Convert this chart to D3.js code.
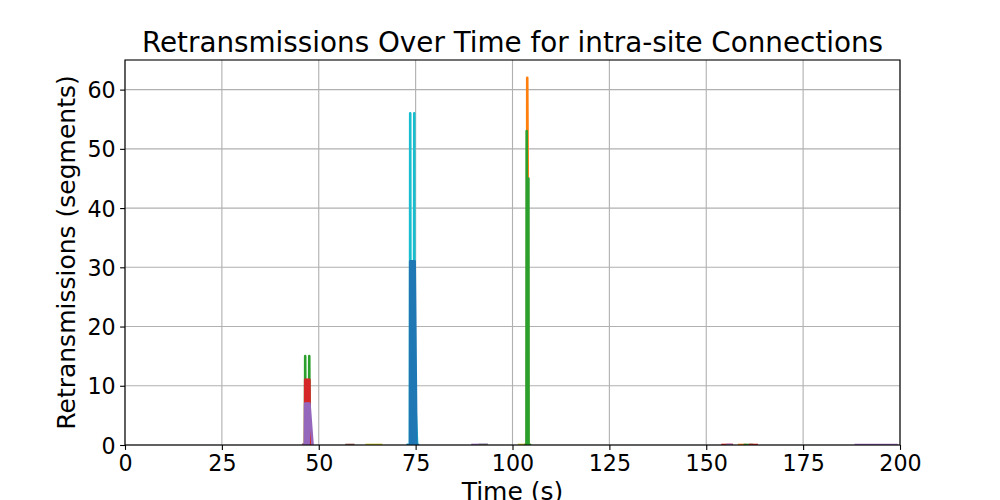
<!DOCTYPE html>
<html>
<head>
<meta charset="utf-8">
<script src="https://cdn.jsdelivr.net/npm/d3@7"></script>
<style>
  html, body { margin: 0; padding: 0; background: #fff; }
  svg { display: block; font-family: "DejaVu Sans", sans-serif; }
</style>
</head>
<body>
<svg id="chart" width="1000" height="500"></svg>
<script>
// ---- Data ----
const chartTitle = "Retransmissions Over Time for intra-site Connections";
const xLabel = "Time (s)";
const yLabel = "Retransmissions (segments)";
const xTicks = [0, 25, 50, 75, 100, 125, 150, 175, 200];
const yTicks = [0, 10, 20, 30, 40, 50, 60];

// each connection: sample times (s) and retransmission counts
const connA_t = [57.2, 58.9];
const connA_v = [0, 0];
const connB_t = [62.4, 66.1];
const connB_v = [0, 0];
const connC_t = [46.0, 46.45, 46.5, 46.6, 47.45, 47.55, 47.65, 48.0];
const connC_v = [0, 0, 15, 0, 0, 15, 0, 0];
const connD_t = [46.0, 46.45, 46.5, 46.6, 46.7, 46.8, 46.9, 47.0, 47.1, 47.2, 47.3, 47.4, 47.5, 47.6, 47.7, 48.0];
const connD_v = [0, 0, 11, 5, 11, 5, 11, 5, 11, 5, 11, 5, 11, 11, 0, 0];
const connE_t = [46.0, 46.45, 46.5, 46.6, 46.7, 46.8, 46.9, 47.0, 47.1, 47.2, 47.3, 47.4, 47.5, 47.6, 48.4];
const connE_v = [0, 0, 7, 0, 7, 0, 7, 0, 7, 0, 7, 0, 7, 7, 0];
const connF_t = [73.0, 73.55, 73.6, 73.7, 74.55, 74.65, 74.7, 75.4];
const connF_v = [0, 0, 56, 0, 0, 56, 10, 0];
const connG_t = [73.0, 73.55, 73.6, 73.7, 73.8, 73.9, 74.0, 74.1, 74.2, 74.3, 74.4, 74.5, 74.6, 74.75, 75.2, 75.6];
const connG_v = [0, 0, 31, 0, 31, 0, 31, 0, 31, 0, 31, 0, 31, 31, 0, 0];
const connH_t = [89.7, 93.3];
const connH_v = [0, 0];
const connI_t = [91.6, 93.3];
const connI_v = [0, 0];
const connJ_t = [101.7, 103.2];
const connJ_v = [0, 0];
const connK_t = [103.4, 103.75, 103.8, 103.94, 104.0, 104.4];
const connK_v = [0, 0, 62, 45, 0, 0];
const connL_t = [103.4, 103.6, 103.66, 103.8, 104.1, 104.15, 104.5];
const connL_v = [0, 0, 53, 0, 45, 0, 0];
const connM_t = [154.2, 156.6];
const connM_v = [0, 0];
const connN_t = [155.5, 156.4];
const connN_v = [0, 0];
const connO_t = [158.5, 160.1];
const connO_v = [0, 0];
const connP_t = [160.0, 161.7];
const connP_v = [0, 0];
const connQ_t = [161.3, 163.0];
const connQ_v = [0, 0];
const connR_t = [188.6, 199.1];
const connR_v = [0, 0];

// draw order and palette slot (matplotlib tab10 == d3.schemeCategory10)
const seriesList = [
  [connA_t, connA_v], [connB_t, connB_v], [connC_t, connC_v], [connD_t, connD_v],
  [connE_t, connE_v], [connF_t, connF_v], [connG_t, connG_v], [connH_t, connH_v],
  [connI_t, connI_v], [connJ_t, connJ_v], [connK_t, connK_v], [connL_t, connL_v],
  [connM_t, connM_v], [connN_t, connN_v], [connO_t, connO_v], [connP_t, connP_v],
  [connQ_t, connQ_v], [connR_t, connR_v]
];
const seriesColorSlot = [5, 8, 2, 3, 4, 9, 0, 4, 7, 8, 1, 2, 3, 4, 1, 2, 3, 4];

// ---- Layout ----
const W = 1000, H = 500;
const m = { left: 125, right: 100, top: 60, bottom: 55 };
const pw = W - m.left - m.right, ph = H - m.top - m.bottom;
const svg = d3.select("#chart");
const g = svg.append("g").attr("transform", `translate(${m.left},${m.top})`);

const x = d3.scaleLinear().domain([0, 200]).range([0, pw]);
const y = d3.scaleLinear().domain([0, 65]).range([ph, 0]);

// grid
g.append("g").selectAll("line").data(xTicks).join("line")
  .attr("x1", d => x(d)).attr("x2", d => x(d)).attr("y1", 0).attr("y2", ph)
  .attr("stroke", "#b0b0b0").attr("stroke-width", 1.1);
g.append("g").selectAll("line").data(yTicks).join("line")
  .attr("x1", 0).attr("x2", pw).attr("y1", d => y(d)).attr("y2", d => y(d))
  .attr("stroke", "#b0b0b0").attr("stroke-width", 1.1);

// lines
const lineGen = d3.line().x(d => x(d[0])).y(d => y(d[1]));
const clip = svg.append("defs").append("clipPath").attr("id", "clip")
  .append("rect").attr("width", pw).attr("height", ph);
const lg = g.append("g").attr("clip-path", "url(#clip)");
seriesList.forEach((s, i) => {
  const pts = s[0].map((t, k) => [t, s[1][k]]);
  lg.append("path").datum(pts)
    .attr("d", lineGen)
    .attr("fill", "none")
    .attr("stroke", d3.schemeCategory10[seriesColorSlot[i]])
    .attr("stroke-width", 2.6)
    .attr("stroke-linejoin", "round")
    .attr("stroke-linecap", "square");
});

// axes
const xAxis = d3.axisBottom(x).tickValues(xTicks).tickSize(4.9).tickPadding(4.5).tickFormat(d3.format("d"));
const yAxis = d3.axisLeft(y).tickValues(yTicks).tickSize(4.9).tickPadding(4.5).tickFormat(d3.format("d"));
const gx = g.append("g").attr("transform", `translate(0,${ph})`).call(xAxis);
const gy = g.append("g").call(yAxis);
[gx, gy].forEach(a => {
  a.select(".domain").remove();
  a.selectAll("line").attr("stroke", "#000").attr("stroke-width", 1.1);
  a.selectAll("text").attr("fill", "#000").attr("font-size", 22.2)
    .attr("font-family", "DejaVu Sans, sans-serif");
});
gx.selectAll("text").attr("dy", null).attr("y", 26);
gy.selectAll("text").attr("dy", "0.36em");

// frame (spines)
g.append("rect").attr("width", pw).attr("height", ph)
  .attr("fill", "none").attr("stroke", "#000").attr("stroke-width", 1.1);

// title and labels
svg.append("text").attr("x", m.left + pw / 2).attr("y", 52)
  .attr("text-anchor", "middle").attr("font-size", 27.8).attr("fill", "#000")
  .text(chartTitle);
svg.append("text").attr("x", m.left + pw / 2).attr("y", 500)
  .attr("text-anchor", "middle").attr("font-size", 25).attr("fill", "#000")
  .text(xLabel);
svg.append("text").attr("transform", `translate(75,${m.top + ph / 2}) rotate(-90)`)
  .attr("text-anchor", "middle").attr("font-size", 25).attr("fill", "#000")
  .text(yLabel);
</script>
</body>
</html>
